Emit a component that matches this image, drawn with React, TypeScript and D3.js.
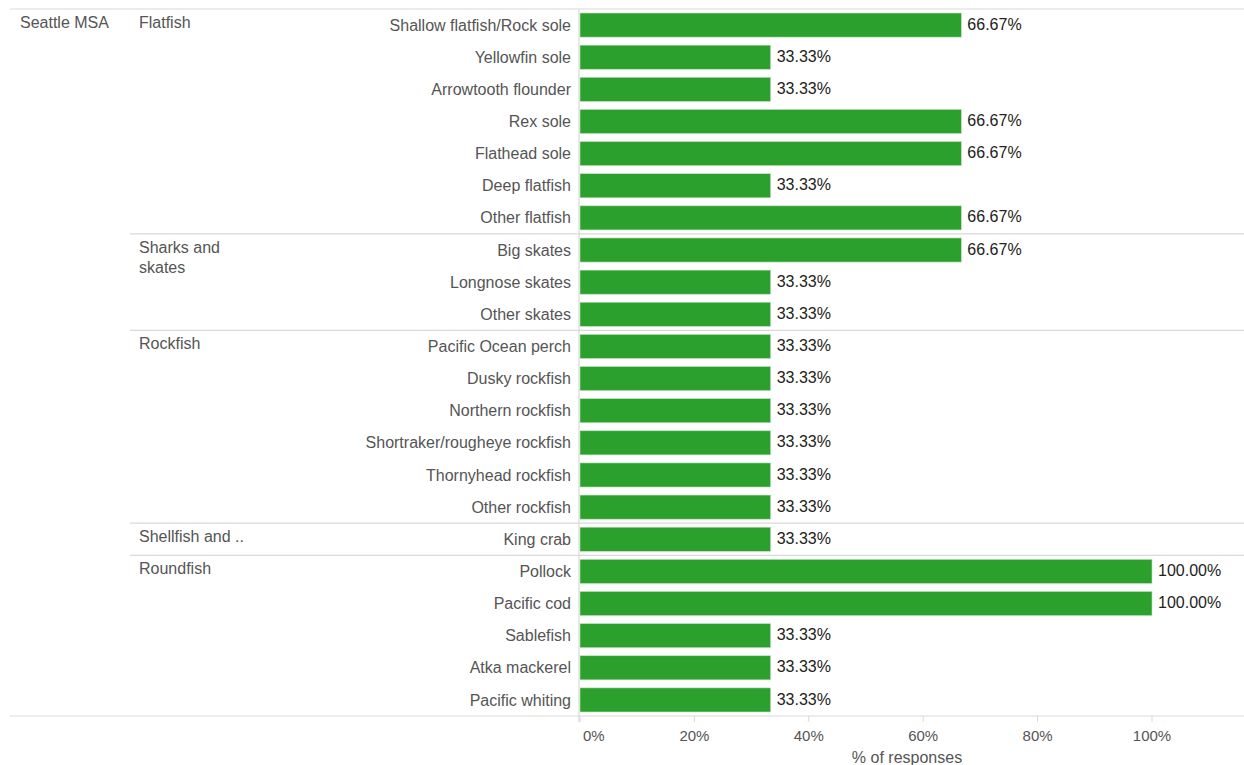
import React, { useEffect, useRef } from "react";
import * as d3 from "d3";

// Row dimension values (Tableau-style nested table)
const region = "Seattle MSA";
const groups = ["Flatfish", "Sharks and skates", "Rockfish", "Shellfish and ..", "Roundfish"];
const groupOf = [0, 0, 0, 0, 0, 0, 0, 1, 1, 1, 2, 2, 2, 2, 2, 2, 3, 4, 4, 4, 4, 4];
const species = [
  "Shallow flatfish/Rock sole", "Yellowfin sole", "Arrowtooth flounder", "Rex sole",
  "Flathead sole", "Deep flatfish", "Other flatfish", "Big skates", "Longnose skates",
  "Other skates", "Pacific Ocean perch", "Dusky rockfish", "Northern rockfish",
  "Shortraker/rougheye rockfish", "Thornyhead rockfish", "Other rockfish", "King crab",
  "Pollock", "Pacific cod", "Sablefish", "Atka mackerel", "Pacific whiting"
];
const pct = [
  66.67, 33.33, 33.33, 66.67, 66.67, 33.33, 66.67, 66.67, 33.33, 33.33,
  33.33, 33.33, 33.33, 33.33, 33.33, 33.33, 33.33, 100, 100, 33.33, 33.33, 33.33
];
const ticks = [0, 20, 40, 60, 80, 100];

const W = 1244, H = 765;
const top = 9, bottom = 716;
const x0 = 580, x1 = 1152;
const FONT = "Arial, 'Liberation Sans', sans-serif";
const FS = 16;

const Chart: React.FC = () => {
  const ref = useRef<SVGSVGElement | null>(null);

  useEffect(() => {
    const svg = d3.select(ref.current);
    svg.selectAll("*").remove();

    const x = d3.scaleLinear().domain([0, 100]).range([x0, x1]);
    const y = d3.scaleBand<number>().domain(d3.range(species.length)).range([top, bottom]).paddingInner(0.25).paddingOuter(0.125);
    const step = y.step();

    // grid lines
    const lines = svg.append("g").attr("stroke", "#d9d9d9").attr("stroke-width", 1.2);
    lines.append("line").attr("x1", 10).attr("x2", W).attr("y1", top).attr("y2", top);
    lines.append("line").attr("x1", 10).attr("x2", W).attr("y1", bottom).attr("y2", bottom);
    groups.forEach((_, gi) => {
      if (gi === 0) return;
      const first = groupOf.indexOf(gi);
      const yy = top + first * step;
      lines.append("line").attr("x1", 130).attr("x2", W).attr("y1", yy).attr("y2", yy);
    });
    lines.append("line").attr("x1", x0 - 1).attr("x2", x0 - 1).attr("y1", top).attr("y2", bottom + 6);

    // bars
    svg.append("g")
      .selectAll("rect")
      .data(pct)
      .join("rect")
      .attr("x", x(0))
      .attr("y", (_, i) => y(i)!)
      .attr("width", d => x(d) - x(0))
      .attr("height", y.bandwidth())
      .attr("fill", "#2ca02c")
      .attr("stroke", "#bfe3bf")
      .attr("stroke-width", 0.6);

    // value labels
    svg.append("g")
      .selectAll("text")
      .data(pct)
      .join("text")
      .attr("x", d => x(d) + 6)
      .attr("y", (_, i) => y(i)! + y.bandwidth() / 2 - 1)
      .attr("dy", "0.35em")
      .attr("font-family", FONT)
      .attr("font-size", FS)
      .attr("fill", "#222")
      .text(d => d.toFixed(2) + "%");

    // species labels
    svg.append("g")
      .selectAll("text")
      .data(species)
      .join("text")
      .attr("x", 571)
      .attr("y", (_, i) => y(i)! + y.bandwidth() / 2)
      .attr("dy", "0.35em")
      .attr("text-anchor", "end")
      .attr("font-family", FONT)
      .attr("font-size", FS)
      .attr("fill", "#555")
      .text(d => d);

    // region label
    svg.append("text")
      .attr("x", 20).attr("y", top + 19)
      .attr("font-family", FONT).attr("font-size", FS).attr("fill", "#555")
      .text(region);

    // group labels (wrapped)
    groups.forEach((g, gi) => {
      const first = groupOf.indexOf(gi);
      const parts = g === "Sharks and skates" ? ["Sharks and", "skates"] : [g];
      const t = svg.append("text")
        .attr("x", 139).attr("y", top + first * step + 19)
        .attr("font-family", FONT).attr("font-size", FS).attr("fill", "#555");
      parts.forEach((p, k) => {
        t.append("tspan").attr("x", 139).attr("dy", k === 0 ? 0 : 20).text(p);
      });
    });

    // x axis
    const ax = svg.append("g");
    ax.selectAll("line")
      .data(ticks)
      .join("line")
      .attr("x1", d => x(d)).attr("x2", d => x(d))
      .attr("y1", bottom).attr("y2", bottom + 6)
      .attr("stroke", "#d9d9d9");
    ax.selectAll("text")
      .data(ticks)
      .join("text")
      .attr("x", d => (d === 0 ? x(d) + 3 : x(d)))
      .attr("y", bottom + 25)
      .attr("text-anchor", d => (d === 0 ? "start" : "middle"))
      .attr("font-family", FONT).attr("font-size", 15).attr("fill", "#555")
      .text(d => d + "%");
    svg.append("text")
      .attr("x", (x0 + W) / 2 - 5).attr("y", bottom + 47)
      .attr("text-anchor", "middle")
      .attr("font-family", FONT).attr("font-size", FS).attr("fill", "#555")
      .text("% of responses");
  }, []);

  return (
    <svg
      ref={ref}
      width={W}
      height={H}
      style={{ position: "fixed", left: 0, top: 0, display: "block", background: "#fff" }}
    />
  );
};

export default function App() {
  return <Chart />;
}
